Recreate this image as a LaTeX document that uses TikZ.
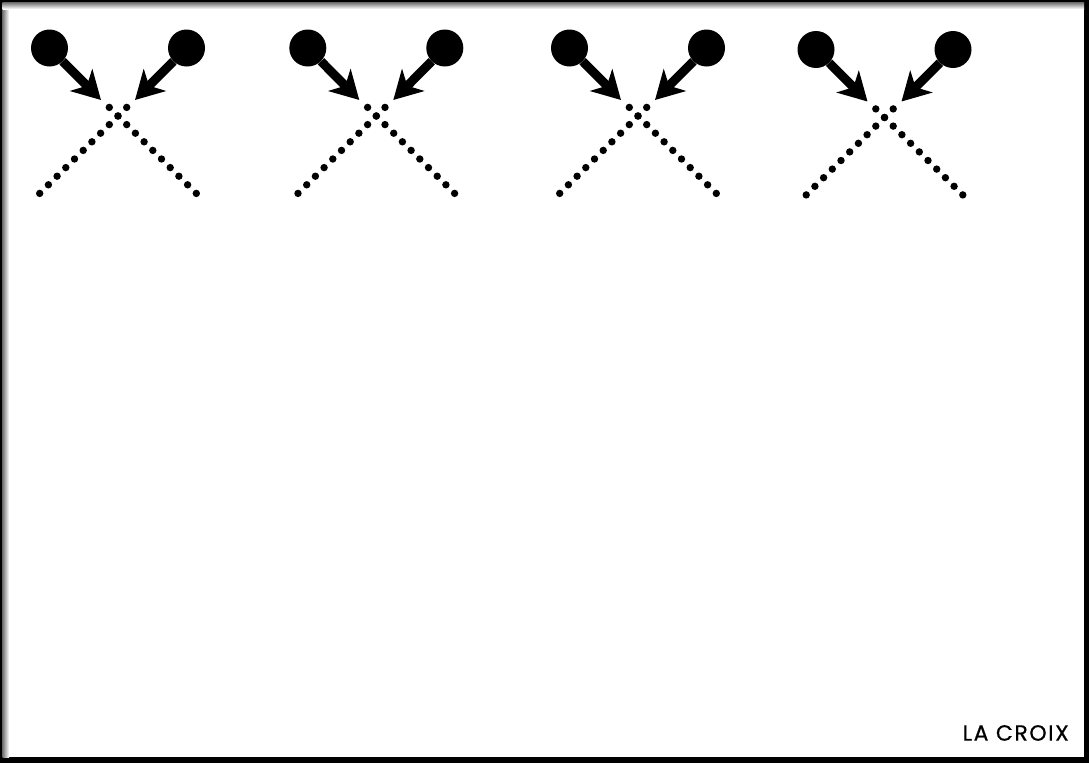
\documentclass[tikz,border=0pt]{standalone}
\usepackage{fontspec}
\newfontfamily\labelfont[FakeBold=0.6,LetterSpace=7]{Poppins}
\usetikzlibrary{arrows.meta,calc}
\tikzset{
  ball/.style={circle,fill=black,inner sep=0pt,minimum size=37pt},
  arr/.style={line width=9pt,-{Stealth[length=28pt,width=31pt,inset=8pt]}},
  dotmark/.style={fill=black}
}
\begin{document}
\begin{tikzpicture}[x=1pt,y=-1pt]
\useasboundingbox (0,0) rectangle (1089,763);
% frame
\fill[black] (0,0) rectangle (1089,763);
\fill[white] (2.5,2.5) rectangle (1084,757);
\shade[left color=black!55,right color=white] (2.5,2.5) rectangle (9,757);
\shade[top color=black!55,bottom color=white] (2.5,2.5) rectangle (1084,9);
\fill[white] (9,9) rectangle (1084,757);
\foreach \g/\dx/\dy in {1/0/0,2/258.3/0,3/520/0,4/766.5/1.5}{
  \coordinate (C\g) at (118+\dx,116+\dy);
  \node[ball] (L\g) at (49.5+\dx,48+\dy) {};
  \node[ball] (R\g) at (186.5+\dx,48+\dy) {};
  \coordinate (TL\g) at (101+\dx,100+\dy);
  \coordinate (TR\g) at (135+\dx,100+\dy);
  \draw[arr] (L\g) -- (TL\g);
  \draw[arr] (R\g) -- (TR\g);
  \foreach \k in {-1,...,9}{
    \fill[dotmark] ($(C\g)+(-8.7*\k,8.6*\k)$) circle[radius=3.7];
    \fill[dotmark] ($(C\g)+(8.7*\k,8.6*\k)$) circle[radius=3.7];
  }
}
\node[anchor=south east,inner sep=0pt,font=\labelfont\fontsize{22}{26}\selectfont] (lbl) at (1069,741) {LA\ CROIX};
\end{tikzpicture}
\end{document}
